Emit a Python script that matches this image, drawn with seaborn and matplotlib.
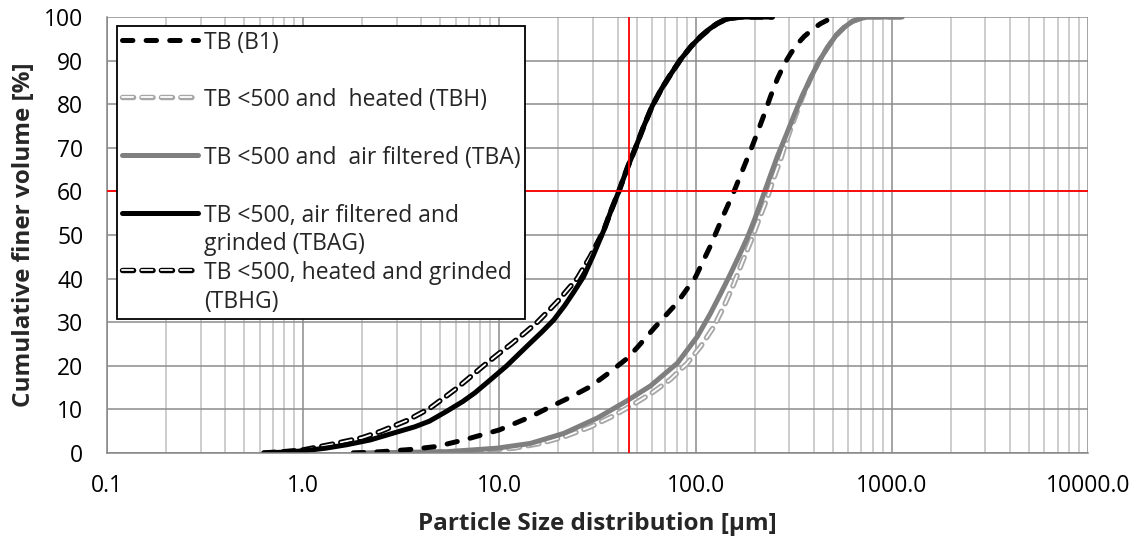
"""
Cumulative particle size distribution of the TB samples
(log x axis, Excel-like grid and legend box)
"""
import numpy as np
import pandas as pd
import matplotlib
matplotlib.use("Agg")
import matplotlib.pyplot as plt
import matplotlib.patheffects as pe
from matplotlib.ticker import LogLocator, FuncFormatter, MultipleLocator, NullFormatter
import seaborn as sns

# ---- data (size in um, cumulative %) ----
b1_size = [1.8, 2.5, 3.5, 4.8, 6.6, 10.0, 14.4, 18.0, 23.0, 29.0, 35.0, 44.8, 50.4,
           62.5, 80.7, 100.0, 119.0, 137.0, 157.0, 174.0, 191.0, 207.0, 223.0, 241.0,
           261.0, 283.0, 306.0, 330.0, 357.0, 395.0, 434.0, 470.0]
b1_cum = [0, 0.3, 0.8, 1.5, 3.0, 5.3, 8.3, 10.5, 12.8, 15.2, 17.9, 21.7, 24.2,
          29.0, 34.5, 40.4, 47.5, 54.0, 60.0, 65.0, 69.5, 73.6, 77.5, 81.8,
          85.8, 89.2, 91.7, 93.8, 95.5, 97.2, 98.5, 99.3]

tbh_size = [1.8, 4.0, 7.0, 11.8, 16.2, 21.3, 29.1, 38.0, 48.4, 60.0, 74.5, 90.7, 106.0,
            124.0, 140.0, 157.0, 173.0, 191.0, 210.0, 232.0, 250.0, 272.0, 290.0, 306.0,
            330.0, 350.0, 386.0, 425.0, 470.0, 520.0, 571.0, 630.0, 695.0, 760.0, 1130.0]
tbh_cum = [0, 0.1, 0.4, 1.1, 2.2, 3.7, 6.0, 8.5, 11.2, 13.8, 16.9, 20.6, 24.4,
           29.0, 33.8, 38.9, 43.8, 48.5, 53.5, 58.5, 63.0, 67.5, 71.5, 74.5,
           78.5, 81.6, 86.0, 89.8, 93.0, 95.8, 97.6, 99.0, 99.7, 100, 100]

tba_size = [1.8, 3.0, 5.4, 9.7, 14.4, 21.3, 31.5, 44.8, 58.9, 80.7, 102.0, 119.0, 135.0,
            151.0, 168.0, 184.0, 200.0, 215.0, 240.0, 261.0, 290.0, 318.0, 350.0, 386.0,
            425.0, 470.0, 520.0, 571.0, 630.0, 695.0, 760.0, 1130.0]
tba_cum = [0, 0.1, 0.3, 1.1, 2.2, 4.5, 8.0, 12.0, 15.4, 20.6, 26.7, 32.0, 36.8,
           41.2, 45.6, 49.5, 53.6, 57.5, 63.5, 68.0, 73.0, 77.5, 82.0, 86.0,
           89.8, 93.0, 95.8, 97.6, 99.0, 99.7, 100, 100]

tbag_size = [0.63, 0.8, 1.0, 1.3, 1.67, 2.2, 3.0, 3.7, 4.4, 5.4, 6.5, 7.5, 9.0, 10.9,
             12.7, 14.5, 16.5, 18.9, 21.5, 24.0, 26.9, 30.0, 34.0, 37.0, 40.6, 45.0,
             49.4, 54.5, 60.0, 67.0, 74.5, 84.0, 95.0, 106.0, 118.0, 129.0, 140.0,
             151.0, 170.0, 246.0]
tbag_cum = [0, 0.2, 0.5, 1.1, 1.9, 3.0, 4.8, 6.0, 7.3, 9.6, 11.8, 13.8, 16.8, 20.0,
            22.9, 25.4, 27.8, 30.5, 33.8, 37.0, 40.5, 45.2, 51.0, 55.5, 60.0, 65.5,
            70.0, 75.0, 79.5, 83.5, 86.8, 90.3, 93.3, 95.5, 97.3, 98.5, 99.3,
            99.7, 100, 100]

tbhg_size = [0.63, 0.8, 1.0, 1.4, 2.0, 2.5, 3.4, 4.4, 5.2, 6.0, 7.0, 8.3, 9.8, 11.5,
             13.5, 15.6, 17.7, 20.0, 22.3, 24.9, 29.0, 34.0, 37.0, 40.6, 45.0, 49.4,
             54.5, 60.0, 67.0, 74.5, 84.0, 95.0, 106.0, 118.0, 129.0, 140.0, 151.0,
             170.0, 246.0]
tbhg_cum = [0, 0.3, 0.7, 2.0, 3.5, 5.0, 7.5, 10.2, 12.6, 14.7, 17.2, 20.0, 22.6, 25.0,
            27.6, 30.0, 32.5, 35.0, 37.5, 40.0, 45.0, 51.0, 55.5, 60.0, 65.5, 70.0,
            75.0, 79.5, 83.5, 86.8, 90.3, 93.3, 95.5, 97.3, 98.5, 99.3, 99.7,
            100, 100]

legend_labels = ["TB (B1)\n",
                 "TB <500 and  heated (TBH)\n",
                 "TB <500 and  air filtered (TBA)\n",
                 "TB <500, air filtered and\ngrinded (TBAG)",
                 "TB <500, heated and grinded\n(TBHG)"]

x_ticks = [0.1, 1, 10, 100, 1000, 10000]
ref_size = 45.5   # red vertical marker
ref_cum = 60      # red horizontal marker

# ---- style ----
sns.set_style("white")
plt.rcParams['font.family'] = ['Open Sans', 'DejaVu Sans']
plt.rcParams['lines.scale_dashes'] = False
FS = 16.5

fig = plt.figure(figsize=(11.45, 5.43), dpi=100)
ax = fig.add_axes([107 / 1145, 90 / 543, 981 / 1145, 436 / 543])
ax.set_xscale('log')

outline = lambda c: [pe.Stroke(linewidth=3.9, foreground=c), pe.Normal()]

series = [
    (b1_size, b1_cum, dict(color='black', lw=3.6, ls=(0, (7.5, 9.5)),
                           dash_capstyle='round', zorder=2.5)),
    (tbh_size, tbh_cum, dict(color='white', lw=1.3, ls=(0, (8, 6)), dash_capstyle='round',
                             path_effects=outline('#A6A6A6'), zorder=2.1)),
    (tba_size, tba_cum, dict(color='#7F7F7F', lw=3.6, zorder=2.2)),
    (tbag_size, tbag_cum, dict(color='black', lw=3.6, zorder=2.4)),
    (tbhg_size, tbhg_cum, dict(color='white', lw=1.3, ls=(0, (8, 6)), dash_capstyle='round',
                               path_effects=outline('black'), zorder=2.3)),
]

handles = []
for (x, y, kws), lab in zip(series, legend_labels):
    df = pd.DataFrame({'size': x, 'cum': y})
    sns.lineplot(data=df, x='size', y='cum', ax=ax, estimator=None, errorbar=None,
                 sort=False, label=lab, **kws)
    handles.append(ax.lines[-1])

ax.axvline(ref_size, color='red', lw=1.3, zorder=3)
ax.axhline(ref_cum, color='red', lw=1.3, zorder=3)

# axes / grid
ax.set_xlim(x_ticks[0], x_ticks[-1])
ax.set_ylim(0, 100)
ax.xaxis.set_major_locator(LogLocator(base=10, numticks=10))
ax.xaxis.set_minor_locator(LogLocator(base=10, subs=np.arange(2, 10), numticks=20))
ax.xaxis.set_major_formatter(FuncFormatter(lambda v, p: f"{v:.1f}"))
ax.xaxis.set_minor_formatter(NullFormatter())
ax.yaxis.set_major_locator(MultipleLocator(10))

ax.grid(True, which='major', color='#8C8C8C', lw=1.1)
ax.grid(True, which='minor', axis='x', color='#C0C0C0', lw=1.1)
ax.set_axisbelow(True)

for s in ['top', 'right']:
    ax.spines[s].set_visible(False)
for s in ['left', 'bottom']:
    ax.spines[s].set_color('#868686')
    ax.spines[s].set_linewidth(1.1)

ax.tick_params(axis='both', which='major', direction='out', length=6, width=1.1,
               color='#868686', labelsize=FS, labelcolor='black')
ax.tick_params(axis='x', which='major', pad=9)
ax.tick_params(axis='y', which='major', pad=11)
ax.tick_params(axis='x', which='minor', length=0)

ax.set_xlabel('Particle Size distribution [µm]', fontsize=17.5, fontweight='bold', labelpad=10)
ax.set_ylabel('Cumulative finer volume [%]', fontsize=17.5, fontweight='bold', labelpad=6)

leg = ax.legend(handles, legend_labels, loc='upper left', bbox_to_anchor=(10 / 981, 427 / 436),
                borderaxespad=0, fontsize=FS, frameon=True, fancybox=False, edgecolor='black',
                framealpha=1, handlelength=3.35, handletextpad=0.25, labelspacing=0.21,
                borderpad=0.2, handleheight=1.0)
leg.get_frame().set_linewidth(1.3)
for t in leg.get_texts():
    t.set_linespacing(1.27)
# handle next to the first text line (like Excel), not centred on the block
for col in leg._legend_handle_box.get_children():
    for item in col.get_children():
        item.align = 'top'

fig.savefig('out.png', dpi=100)
